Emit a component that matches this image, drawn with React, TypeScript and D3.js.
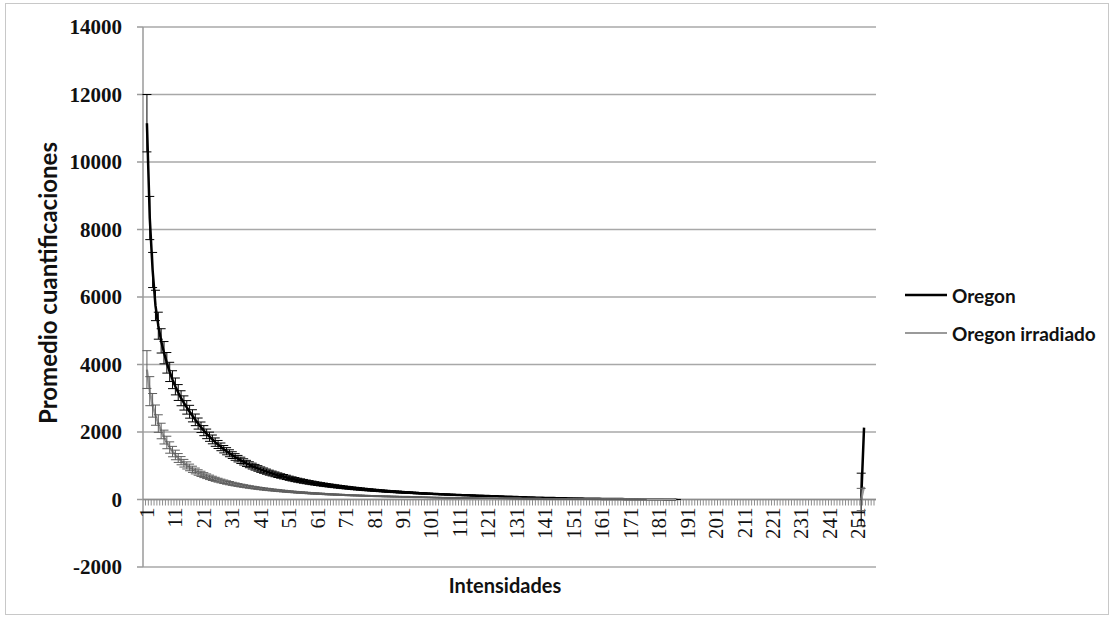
import * as d3 from "d3";

// categories 1..256 (intensities)
const categories = d3.range(1, 257);
const yTicks = [-2000, 0, 2000, 4000, 6000, 8000, 10000, 12000, 14000];

// Oregon, categories 1..187
const oregon = [
  11150, 8340, 6800, 5750, 5150, 4700, 4350, 4050, 3780, 3550,
  3350, 3170, 3000, 2860, 2730, 2600, 2480, 2360, 2250, 2140,
  2040, 1945, 1860, 1780, 1700, 1630, 1560, 1490, 1430, 1370,
  1315, 1260, 1210, 1160, 1115, 1070, 1030, 990, 955, 920,
  885, 855, 825, 795, 770, 745, 720, 697, 675, 655,
  630, 610, 590, 572, 555, 538, 522, 507, 492, 478,
  465, 452, 440, 428, 416, 405, 394, 383, 373, 363,
  353, 344, 335, 326, 318, 310, 302, 294, 287, 280,
  273, 266, 259, 253, 247, 241, 235, 229, 224, 219,
  214, 209, 204, 199, 194, 189, 185, 180, 176, 172,
  168, 164, 160, 156, 152, 149, 145, 142, 138, 135,
  132, 129, 126, 123, 120, 117, 114, 111, 108, 105,
  102, 99, 96, 93, 90, 87, 84, 81, 78, 75,
  72, 69, 66, 63, 61, 58, 56, 54, 52, 50,
  48, 46, 44, 42, 40, 38, 36, 34, 33, 31,
  30, 28, 27, 26, 24, 23, 22, 21, 20, 19,
  18, 17, 16, 15, 14, 13, 13, 12, 11, 10,
  10, 9, 8, 8, 7, 7, 6, 6, 5, 5,
  4, 4, 3, 3, 2, 2, 1,
];
const oregonErr = [
  850, 640, 520, 450, 400, 360, 330, 305, 285, 265,
  250, 235, 222, 210, 200, 190, 180, 172, 164, 156,
  149, 142, 136, 130, 124, 119, 114, 109, 106, 103,
  100, 98, 96, 94, 92, 90, 88, 86, 84, 82,
  80, 78, 76, 74, 72, 70, 68, 66, 65, 64,
  62, 61, 60, 58, 57, 56, 54, 53, 52, 50,
  49, 48, 47, 46, 45, 44, 43, 42, 41, 40,
  39, 38, 37, 36, 35, 34, 33, 32, 31, 30,
  29, 28, 27, 27, 26, 26, 25, 25, 24, 24,
  23, 22, 21, 20, 19, 18, 17, 16, 15, 14,
  13, 13, 13, 12, 12, 12, 11, 11, 11, 10,
  10, 10, 9, 9, 9, 9, 8, 8, 8, 8,
  7, 7, 7, 7, 6, 6, 6, 6, 6, 5,
  5, 5, 5, 5, 5, 4, 4, 4, 4, 4,
  4, 3, 3, 3, 3, 3, 3, 3, 3, 2,
  2, 2, 2, 2, 2, 2, 2, 2, 2, 2,
  2, 2, 2, 1, 1, 1, 1, 1, 1, 1,
  1, 1, 1, 1, 1, 1, 1, 1, 1, 1,
  1, 1, 1, 1, 1, 1, 1,
];

// Oregon irradiado, categories 1..187
const irradiado = [
  3850, 3210, 2790, 2500, 2250, 2030, 1850, 1690, 1540, 1420,
  1320, 1230, 1150, 1075, 1010, 950, 895, 845, 800, 760,
  722, 688, 656, 626, 598, 572, 548, 525, 504, 484,
  465, 447, 430, 414, 399, 385, 371, 358, 346, 334,
  323, 312, 302, 292, 283, 274, 265, 257, 249, 241,
  234, 227, 220, 213, 207, 201, 195, 189, 184, 179,
  174, 169, 164, 159, 155, 151, 147, 143, 139, 135,
  131, 128, 125, 122, 119, 116, 113, 110, 107, 104,
  101, 98, 96, 94, 92, 90, 88, 86, 84, 82,
  80, 78, 76, 74, 72, 70, 68, 66, 64, 62,
  60, 58, 56, 54, 52, 50, 48, 47, 46, 45,
  44, 43, 42, 41, 40, 39, 38, 37, 36, 35,
  34, 33, 32, 31, 30, 29, 28, 27, 26, 25,
  24, 23, 22, 21, 20, 19, 18, 17, 16, 15,
  14, 14, 13, 13, 12, 12, 11, 11, 10, 10,
  9, 8, 8, 8, 7, 7, 7, 6, 6, 6,
  5, 5, 5, 5, 4, 4, 4, 4, 3, 3,
  3, 3, 3, 2, 2, 2, 2, 2, 2, 1,
  1, 1, 1, 1, 1, 1, 0,
];
const irradiadoErr = [
  560, 430, 350, 300, 260, 230, 205, 185, 168, 154,
  142, 131, 121, 113, 105, 98, 92, 86, 81, 77,
  73, 69, 66, 63, 60, 57, 54, 52, 50, 48,
  46, 44, 42, 40, 39, 37, 36, 35, 34, 33,
  32, 31, 30, 29, 28, 27, 26, 25, 24, 23,
  22, 22, 21, 21, 20, 20, 19, 19, 18, 18,
  17, 17, 16, 16, 15, 15, 14, 14, 13, 13,
  12, 12, 12, 11, 11, 11, 10, 10, 10, 9,
  9, 9, 9, 8, 8, 8, 8, 7, 7, 7,
  7, 6, 6, 6, 6, 6, 5, 5, 5, 5,
  5, 5, 4, 4, 4, 4, 4, 4, 4, 3,
  3, 3, 3, 3, 3, 3, 3, 3, 2, 2,
  2, 2, 2, 2, 2, 2, 2, 2, 2, 2,
  2, 2, 2, 2, 2, 2, 1, 1, 1, 1,
  1, 1, 1, 1, 1, 1, 1, 1, 1, 1,
  1, 1, 1, 1, 1, 1, 1, 1, 1, 1,
  1, 1, 1, 1, 1, 1, 1, 1, 1, 1,
  1, 1, 1, 1, 1, 0, 0, 0, 0, 0,
  0, 0, 0, 0, 0, 0, 0,
];

// the jump at the right end
const tailCats = [252, 253];
const oregonTail = [0, 2130];
const oregonTailErr = [780, 0];
const irradiadoTail = [0, 380];
const irradiadoTailErr = [330, 0];

type Pt = { c: number; v: number | null; e: number };

function buildSeries(main: number[], err: number[], tail: number[], tailErr: number[]): Pt[] {
  return categories.map((c) => {
    if (c <= main.length) return { c, v: main[c - 1], e: err[c - 1] };
    const t = tailCats.indexOf(c);
    if (t >= 0) return { c, v: tail[t], e: tailErr[t] };
    return { c, v: null, e: 0 };
  });
}

const series = [
  { name: "Oregon", data: buildSeries(oregon, oregonErr, oregonTail, oregonTailErr), color: "#000", width: 2.5, errColor: "#000" },
  { name: "Oregon irradiado", data: buildSeries(irradiado, irradiadoErr, irradiadoTail, irradiadoTailErr), color: "#9a9a9a", width: 2.2, errColor: "#5e5e5e" },
];

export default function App() {
  const W = 1115;
  const H = 620;
  const axisLeft = 143;
  const axisRight = 876;

  const x = d3.scaleBand<number>().domain(categories).range([145.5, 874]);
  const bw = x.bandwidth();
  const cx = (c: number) => (x(c) as number) + bw / 2;
  const y = d3.scaleLinear().domain([-2000, 14000]).range([567, 27]);

  const line = d3
    .line<Pt>()
    .defined((d) => d.v != null)
    .x((d) => cx(d.c))
    .y((d) => y(d.v as number));

  const tickEdges = categories.map((c) => x(c) as number).concat([x.range()[1]]);
  const labelCats = categories.filter((c) => (c - 1) % 10 === 0);
  const serif = "'Liberation Serif', 'Times New Roman', serif";
  const sans = "Lato, 'Open Sans', sans-serif";

  return (
    <svg width={W} height={H} style={{ position: "absolute", left: 0, top: 0, background: "#fff" }}>
      <rect x={5.5} y={3.5} width={1103} height={611} fill="#fff" stroke="#c8c8c8" />

      {/* gridlines */}
      {yTicks.map((t) => (
        <line key={"g" + t} x1={axisLeft} x2={axisRight} y1={y(t)} y2={y(t)} stroke="#a8a8a8" strokeWidth={1.5} />
      ))}

      {/* y axis */}
      <line x1={axisLeft} x2={axisLeft} y1={y(14000)} y2={y(-2000)} stroke="#9a9a9a" strokeWidth={1.5} />
      {yTicks.map((t) => (
        <g key={"y" + t}>
          <line x1={axisLeft - 6} x2={axisLeft} y1={y(t)} y2={y(t)} stroke="#9a9a9a" strokeWidth={1.5} />
          <text x={122} y={y(t)} textAnchor="end" dominantBaseline="central" fontFamily={serif} fontWeight="bold" fontSize={21} fill="#111">
            {t}
          </text>
        </g>
      ))}

      {/* x axis */}
      <line x1={axisLeft} x2={axisRight} y1={y(0)} y2={y(0)} stroke="#8c8c8c" strokeWidth={1.5} />
      {tickEdges.map((e, i) => (
        <line key={"xt" + i} x1={e} x2={e} y1={y(0)} y2={y(0) + 6} stroke="#8c8c8c" strokeWidth={1} />
      ))}
      {labelCats.map((c) => (
        <text
          key={"xl" + c}
          transform={`translate(${cx(c)},${y(0) + 8}) rotate(-90)`}
          textAnchor="end"
          dominantBaseline="central"
          fontFamily={serif}
          fontSize={21}
          fill="#111"
        >
          {c}
        </text>
      ))}

      {/* series */}
      {series.map((s) => (
        <g key={s.name}>
          <path d={line(s.data) || ""} fill="none" stroke={s.color} strokeWidth={s.width} strokeLinejoin="round" />
          {s.data
            .filter((d) => d.v != null && d.e > 0)
            .map((d) => {
              const px = cx(d.c);
              const hi = y((d.v as number) + d.e);
              const lo = y((d.v as number) - d.e);
              return (
                <g key={s.name + d.c} stroke={s.errColor} strokeWidth={1}>
                  <line x1={px} x2={px} y1={hi} y2={lo} />
                  <line x1={px - 4.5} x2={px + 4.5} y1={hi} y2={hi} />
                  <line x1={px - 4.5} x2={px + 4.5} y1={lo} y2={lo} />
                </g>
              );
            })}
        </g>
      ))}

      {/* axis titles */}
      <text transform="translate(47,283) rotate(-90)" textAnchor="middle" dominantBaseline="central" fontFamily={sans} fontWeight="bold" fontSize={24} fill="#111">
        Promedio cuantificaciones
      </text>
      <text x={505} y={585} textAnchor="middle" dominantBaseline="central" fontFamily={sans} fontWeight="bold" fontSize={20} fill="#111">
        Intensidades
      </text>

      {/* legend */}
      {series.map((s, i) => (
        <g key={"lg" + s.name} transform={`translate(0,${295 + i * 38})`}>
          <line x1={905} x2={947} y1={0} y2={0} stroke={s.color} strokeWidth={s.width} />
          <text x={952} y={0} dominantBaseline="central" fontFamily={sans} fontWeight="bold" fontSize={19} fill="#111">
            {s.name}
          </text>
        </g>
      ))}
    </svg>
  );
}
